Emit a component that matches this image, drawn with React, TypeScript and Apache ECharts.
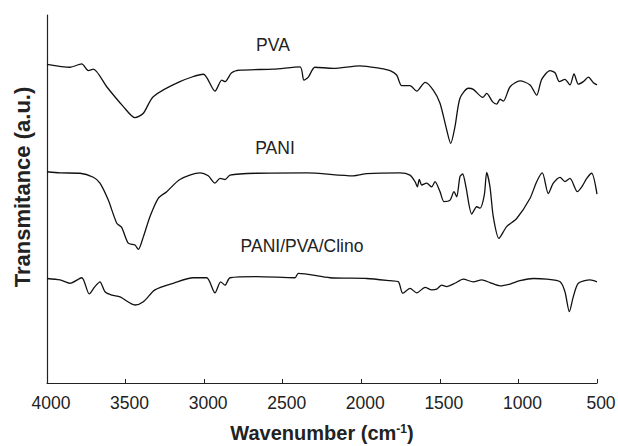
import React, { useEffect, useRef } from "react";
import * as echarts from "echarts";

const xTicks = [4000, 3500, 3000, 2500, 2000, 1500, 1000, 500];

const pvaData: [number, number][] = [
  [4000, 86.6], [3854, 85.8], [3779, 86.7], [3737, 84.9], [3705, 85.3], [3620, 80.5], [3514, 75.1],
  [3440, 72.1], [3387, 73.3], [3324, 77.8], [3154, 81.9], [3005, 83.9], [2931, 79.3], [2888, 82.3],
  [2867, 81.9], [2825, 84.3], [2772, 85.0], [2560, 85.3], [2390, 85.9], [2365, 82.3], [2337, 83.1],
  [2295, 85.8], [2178, 85.5], [2008, 86.2], [1881, 85.5], [1817, 84.9], [1775, 83.7], [1743, 80.8],
  [1690, 80.8], [1647, 79.3], [1594, 81.7], [1542, 79.6], [1499, 76.0], [1456, 68.7], [1431, 65.1],
  [1404, 69.6], [1372, 77.4], [1319, 80.1], [1287, 79.8], [1227, 77.6], [1202, 78.7], [1164, 76.4],
  [1138, 75.8], [1117, 77.1], [1096, 76.6], [1053, 80.5], [990, 82.1], [926, 81.0], [884, 78.2],
  [852, 82.5], [799, 84.9], [767, 84.3], [740, 81.9], [704, 82.5], [672, 81.0], [646, 84.0],
  [619, 81.2], [587, 81.9], [555, 83.1], [523, 81.6], [500, 81.0],
];

const paniData: [number, number][] = [
  [4000, 57.4], [3917, 57.1], [3790, 57.0], [3705, 55.9], [3663, 54.3], [3610, 49.7], [3556, 43.4],
  [3525, 42.3], [3483, 38.0], [3440, 37.5], [3419, 36.3], [3387, 39.7], [3345, 45.2], [3292, 50.2],
  [3238, 52.0], [3154, 55.3], [3026, 57.1], [2974, 56.3], [2931, 54.3], [2899, 55.6], [2867, 55.3],
  [2835, 56.5], [2666, 57.0], [2347, 57.1], [2051, 56.3], [1965, 56.9], [1754, 57.1], [1690, 56.5],
  [1658, 54.7], [1643, 53.3], [1631, 55.3], [1615, 53.8], [1584, 54.3], [1552, 53.3], [1531, 54.7],
  [1499, 52.0], [1474, 49.3], [1435, 49.7], [1410, 52.0], [1393, 50.6], [1372, 56.1], [1355, 56.8],
  [1334, 53.3], [1297, 45.9], [1265, 47.9], [1244, 47.5], [1217, 51.1], [1202, 57.2], [1181, 53.3],
  [1160, 45.2], [1124, 39.3], [1075, 42.5], [1011, 44.7], [926, 50.2], [884, 54.7], [848, 57.1],
  [810, 51.5], [778, 54.3], [735, 55.9], [704, 54.7], [672, 55.6], [625, 52.0], [597, 53.3],
  [565, 55.6], [534, 57.0], [500, 51.3],
];

const clinoData: [number, number][] = [
  [4000, 28.4], [3917, 28.0], [3854, 27.1], [3779, 28.6], [3731, 24.2], [3695, 26.2], [3663, 27.5],
  [3631, 24.8], [3588, 23.9], [3535, 23.4], [3440, 21.2], [3387, 22.1], [3313, 25.3], [3196, 27.1],
  [3069, 28.6], [2984, 28.6], [2931, 24.5], [2895, 27.5], [2867, 26.6], [2835, 28.6], [2666, 28.9],
  [2422, 28.6], [2401, 29.8], [2199, 28.6], [1965, 28.4], [1817, 27.8], [1764, 27.5], [1736, 24.4],
  [1690, 25.7], [1647, 24.5], [1594, 26.0], [1552, 25.3], [1520, 25.5], [1488, 26.6], [1456, 26.2],
  [1404, 27.1], [1351, 28.2], [1287, 27.5], [1234, 28.0], [1181, 27.3], [1117, 26.4], [1053, 26.9],
  [990, 27.8], [905, 28.4], [820, 28.2], [735, 27.5], [704, 24.8], [676, 19.4], [651, 23.4],
  [619, 27.1], [544, 28.0], [500, 27.5],
];

const seriesNames = ["PVA", "PANI", "PANI/PVA/Clino"];
const labelCoords: [number, number][] = [
  [2562, 91.8],
  [2549, 63.9],
  [2377, 37.2],
];

const FONT = "'Liberation Sans', Arial, sans-serif";

export default function App() {
  const ref = useRef<HTMLDivElement>(null);
  useEffect(() => {
    if (!ref.current) return;
    document.body.style.margin = "0";
    const chart = echarts.init(ref.current, null, { renderer: "svg" });
    const datasets = [pvaData, paniData, clinoData];
    const series = datasets.map((d, i) => ({
      name: seriesNames[i],
      type: "line",
      data: d,
      showSymbol: false,
      symbol: "none",
      smooth: 0.25,
      lineStyle: { color: "#111", width: 1.3 },
      markPoint: {
        symbol: "circle",
        symbolSize: 0,
        silent: true,
        data: [{ coord: labelCoords[i], name: seriesNames[i] }],
        label: {
          show: true,
          position: "inside",
          formatter: "{b}",
          color: "#222",
          fontSize: 17.5,
          fontFamily: FONT,
        },
      },
    }));
    chart.setOption({
      animation: false,
      backgroundColor: "#fff",
      grid: { left: 47, right: 21, top: 15, bottom: 63, containLabel: false, outerBoundsMode: "none" },
      xAxis: {
        type: "value",
        inverse: true,
        min: 500,
        max: 4000,
        interval: 500,
        axisLine: { show: true, lineStyle: { color: "#222", width: 1.2 } },
        axisTick: { show: true, inside: true, length: 4, lineStyle: { color: "#222" } },
        axisLabel: {
          show: true,
          color: "#222",
          fontSize: 17.5,
          fontFamily: FONT,
          margin: 11,
          padding: [0, 0, 0, 8],
          formatter: (v: number) => (xTicks.includes(v) ? String(v) : ""),
        },
        splitLine: { show: false },
      },
      yAxis: {
        type: "value",
        min: 0,
        max: 100,
        axisLine: { show: true, lineStyle: { color: "#222", width: 1.2 } },
        axisTick: { show: false },
        axisLabel: { show: false },
        splitLine: { show: false },
      },
      graphic: [
        {
          type: "text",
          x: 22,
          y: 187,
          rotation: Math.PI / 2,
          style: {
            text: "Transmitance (a.u.)",
            fontSize: 22,
            fontWeight: "bold",
            fontFamily: FONT,
            fill: "#222",
            align: "center",
            verticalAlign: "middle",
          },
        },
        {
          type: "text",
          x: 322,
          y: 433,
          style: {
            text: "{a|Wavenumber (cm}{s|-1}{a|)}",
            align: "center",
            verticalAlign: "middle",
            rich: {
              a: { fontSize: 20, fontWeight: "bold", fontFamily: FONT, fill: "#222" },
              s: {
                fontSize: 12,
                fontWeight: "bold",
                fontFamily: FONT,
                fill: "#222",
                padding: [0, 0, 9, 0],
              },
            },
          },
        },
      ],
      series,
    });
    return () => chart.dispose();
  }, []);
  return <div ref={ref} style={{ width: 618, height: 446 }} />;
}
